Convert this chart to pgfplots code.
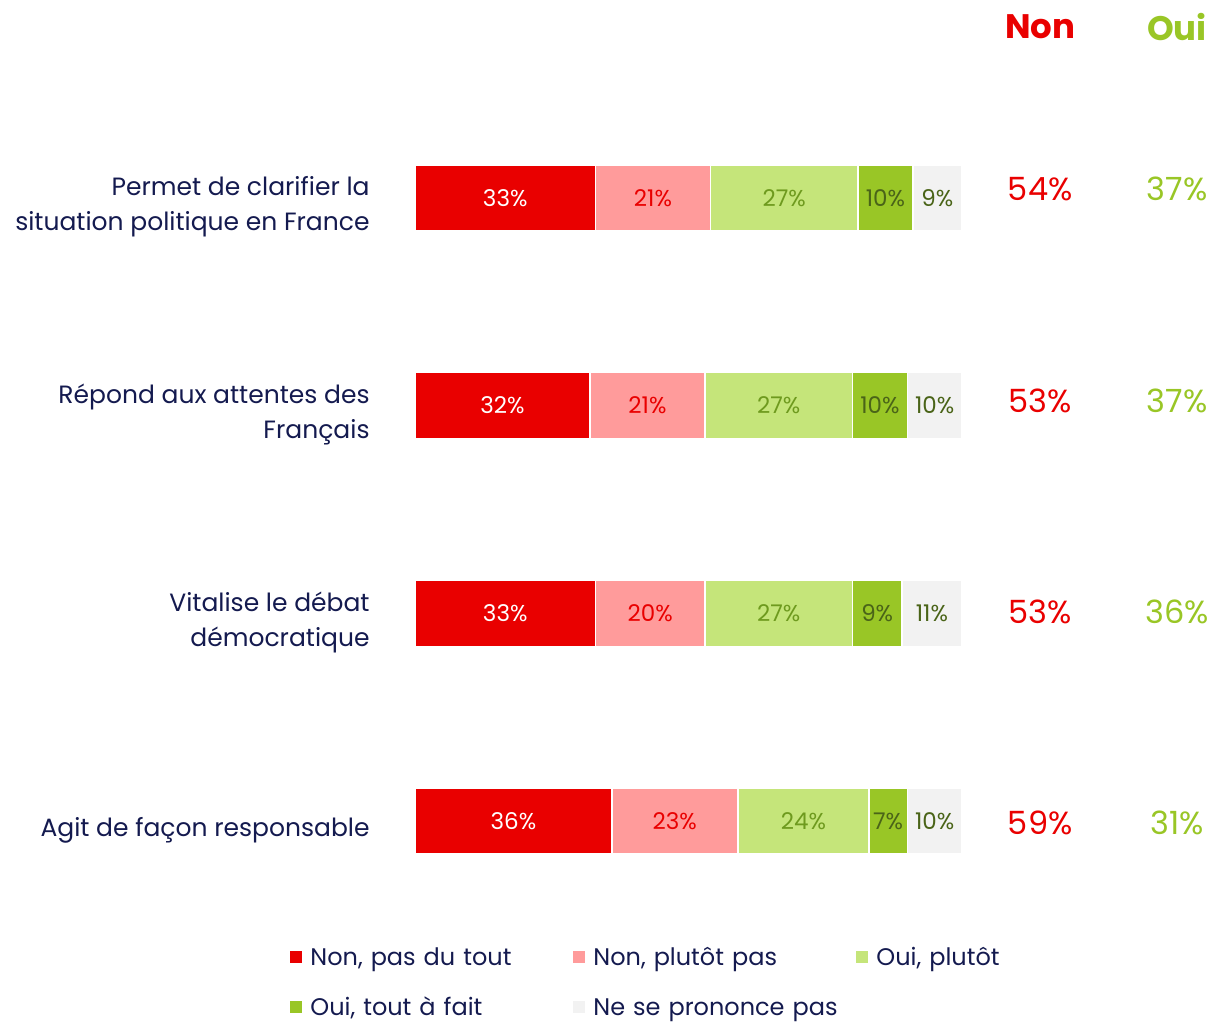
\documentclass[border=0pt]{standalone}
\usepackage{fontspec}
\setmainfont{Poppins}
\usepackage{pgfplots}
\pgfplotsset{compat=1.18}
\usepackage{pgfplotstable}

\definecolor{nonfort}{HTML}{E90000}
\definecolor{nonplut}{HTML}{FF9B9B}
\definecolor{ouiplut}{HTML}{C5E57A}
\definecolor{ouifort}{HTML}{99C626}
\definecolor{nsp}{HTML}{F2F2F2}
\definecolor{navy}{HTML}{141A4F}
\definecolor{txtgreen}{HTML}{6E9A1E}
\definecolor{txtdark}{HTML}{4A6418}

% row: 3 = top bar; ys = small vertical offset of the Non/Oui totals
\pgfplotstableread{
row a b c d e non oui ys
3 33 21 27 10 9 54 37 0.045
2 32 21 27 10 10 53 37 0.022
1 33 20 27 9 11 53 36 0.008
0 36 23 24 7 10 59 31 -0.01
}\data

\pgfplotsset{
  base/.style={
    scale only axis, width=273.5pt, height=415.33pt,
    xmin=0, xmax=100, ymin=-0.5, ymax=3.5,
    at={(207.5pt,48.6pt)}, anchor=south west,
    axis line style={draw=none}, tick style={draw=none},
    xtick=\empty, clip=false,
  },
  seg/.style={fill=#1, draw=white, line width=0.8pt},
  sq/.style={legend image code/.code={\fill[#1,draw=none] (0pt,-2pt) rectangle (6pt,4pt); \path[draw=none,fill=none] (0pt,0pt) -- (10pt,0pt);}},
  lab/.style={forget plot, draw=none, mark=none, point meta=explicit,
    nodes near coords={\pgfmathprintnumber{\pgfplotspointmeta}\%},
    nodes near coords style={anchor=center, text=#1, font=\fontsize{11.5}{13}\selectfont}},
  side/.style={forget plot, draw=none, mark=none, point meta=explicit,
    nodes near coords={\pgfmathprintnumber{\pgfplotspointmeta}\%},
    nodes near coords style={anchor=center, text=#1, font=\fontsize{16}{18}\selectfont}},
}

\begin{document}
\begin{tikzpicture}
\path[use as bounding box] (0,0) rectangle (607pt,511pt);

\begin{axis}[base,
  xbar stacked, bar width=33pt,
  ytick={0,1,2,3},
  yticklabels={Agit de façon responsable,
    {Vitalise le débat\\démocratique},
    {Répond aux attentes des\\Français},
    {Permet de clarifier la\\situation politique en France}},
  yticklabel style={align=right, inner sep=0pt, xshift=-22.5pt, yshift=-4.5pt, text=navy,
    font=\fontsize{12.5}{17.5}\selectfont},
]
\addplot[seg=nonfort] table[x=a, y=row]{\data};
\addplot[seg=nonplut] table[x=b, y=row]{\data};
\addplot[seg=ouiplut] table[x=c, y=row]{\data};
\addplot[seg=ouifort] table[x=d, y=row]{\data};
\addplot[seg=nsp] table[x=e, y=row]{\data};
\end{axis}

\begin{axis}[base, ytick=\empty, /pgf/number format/assume math mode=true,
  legend columns=3,
  legend style={at={(-0.2285,-0.0267)}, anchor=north west, draw=none, fill=none,
    inner sep=0pt, row sep=13pt,
    nodes={inner sep=0pt, text height=9pt, text depth=3pt, text width=131.5pt, align=left,
      text=navy, font=\fontsize{12}{14}\selectfont}},
  legend cell align=left,
]
\addlegendimage{sq=nonfort}
\addlegendimage{sq=nonplut}
\addlegendimage{sq=ouiplut}
\addlegendimage{sq=ouifort}
\addlegendimage{sq=nsp}
\addplot[lab=white] table[x expr=\thisrow{a}/2, y=row, meta=a]{\data};
\addplot[lab=nonfort] table[x expr=\thisrow{a}+\thisrow{b}/2, y=row, meta=b]{\data};
\addplot[lab=txtgreen] table[x expr=\thisrow{a}+\thisrow{b}+\thisrow{c}/2, y=row, meta=c]{\data};
\addplot[lab=txtdark] table[x expr=\thisrow{a}+\thisrow{b}+\thisrow{c}+\thisrow{d}/2, y=row, meta=d]{\data};
\addplot[lab=txtdark] table[x expr=100-\thisrow{e}/2, y=row, meta=e]{\data};
\addplot[side=nonfort] table[x expr=114.3, y expr=\thisrow{row}+\thisrow{ys}, meta=non]{\data};
\addplot[side=ouifort] table[x expr=139.3, y expr=\thisrow{row}+\thisrow{ys}, meta=oui]{\data};
\node[text=nonfort, font=\fontsize{17}{19}\selectfont\bfseries] at (axis cs:114.3,3.823) {Non};
\node[text=ouifort, font=\fontsize{17}{19}\selectfont\bfseries] at (axis cs:139.3,3.823) {Oui};
\legend{{Non, pas du tout}, {Non, plutôt pas}, {Oui, plutôt}, {Oui, tout à fait}, {Ne se prononce pas}}
\end{axis}
\end{tikzpicture}
\end{document}
